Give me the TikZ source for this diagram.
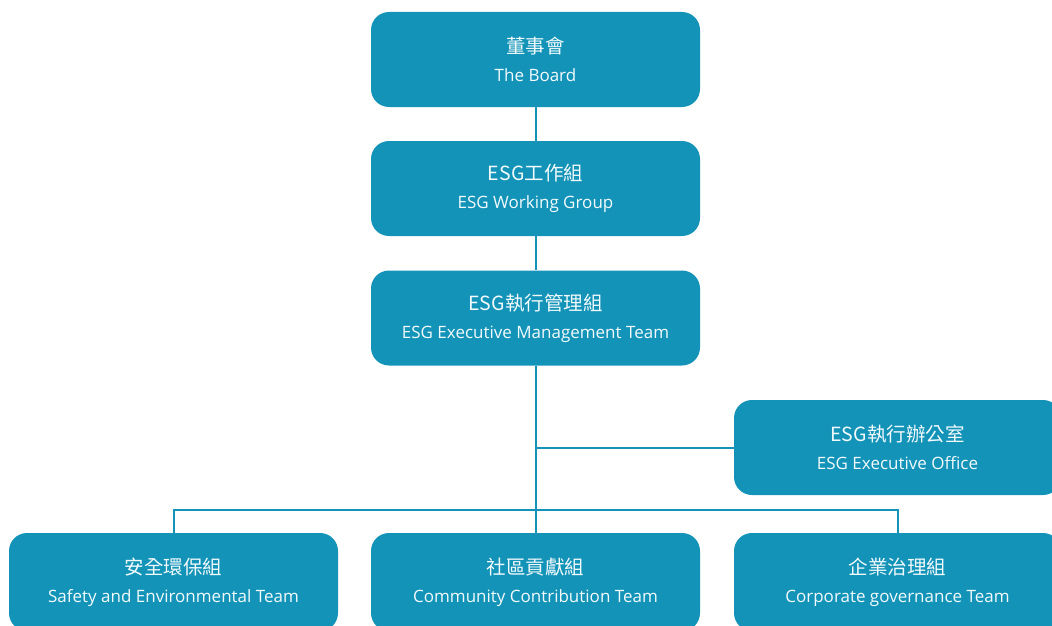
\documentclass[tikz,border=0pt]{standalone}
\usepackage{fontspec}
\setmainfont{Open Sans}
\newfontfamily\cjk{Noto Sans CJK TC}
\newcommand{\zh}[1]{{\cjk\fontsize{19.5}{28}\selectfont #1}}
\definecolor{boxblue}{HTML}{1393B8}
\definecolor{txt}{HTML}{F2FAFC}
\begin{document}
\begin{tikzpicture}[x=1pt,y=-1pt,
  orgbox/.style={fill=boxblue, rounded corners=18pt, minimum width=329pt, minimum height=95pt,
    text=txt, align=center, inner sep=0pt,
    font=\fontsize{17}{28}\selectfont},
  link/.style={draw=boxblue, line width=2pt}]
\useasboundingbox (0,0) rectangle (1052,626);
\node[orgbox] (board) at (535.5,59.5) {\zh{董事會}\\The Board};
\node[orgbox] (wg) at (535.5,188.5) {\zh{ESG工作組}\\ESG Working Group};
\node[orgbox] (em) at (535.5,318) {\zh{ESG執行管理組}\\ESG Executive Management Team};
\node[orgbox, minimum width=327pt] (office) at (897.5,447.5) {\zh{ESG執行辦公室}\\ESG Executive Office};
\node[orgbox, minimum height=98pt] (safety) at (173.5,582) {\zh{安全環保組}\\Safety and Environmental Team};
\node[orgbox, minimum height=98pt] (community) at (535.5,582) {\zh{社區貢獻組}\\Community Contribution Team};
\node[orgbox, minimum width=327pt, minimum height=98pt] (corp) at (897.5,582) {\zh{企業治理組}\\Corporate governance Team};
\coordinate (split) at (535.5,509.5);
\coordinate (officejoin) at (535.5,447.5);
\draw[link] (board.south) -- (wg.north);
\draw[link] (wg.south) -- (em.north);
\draw[link] (em.south) -- (community.north);
\draw[link] (officejoin) -- (office.west);
\draw[link] (safety.north) |- (split) -| (corp.north);
\end{tikzpicture}
\end{document}
